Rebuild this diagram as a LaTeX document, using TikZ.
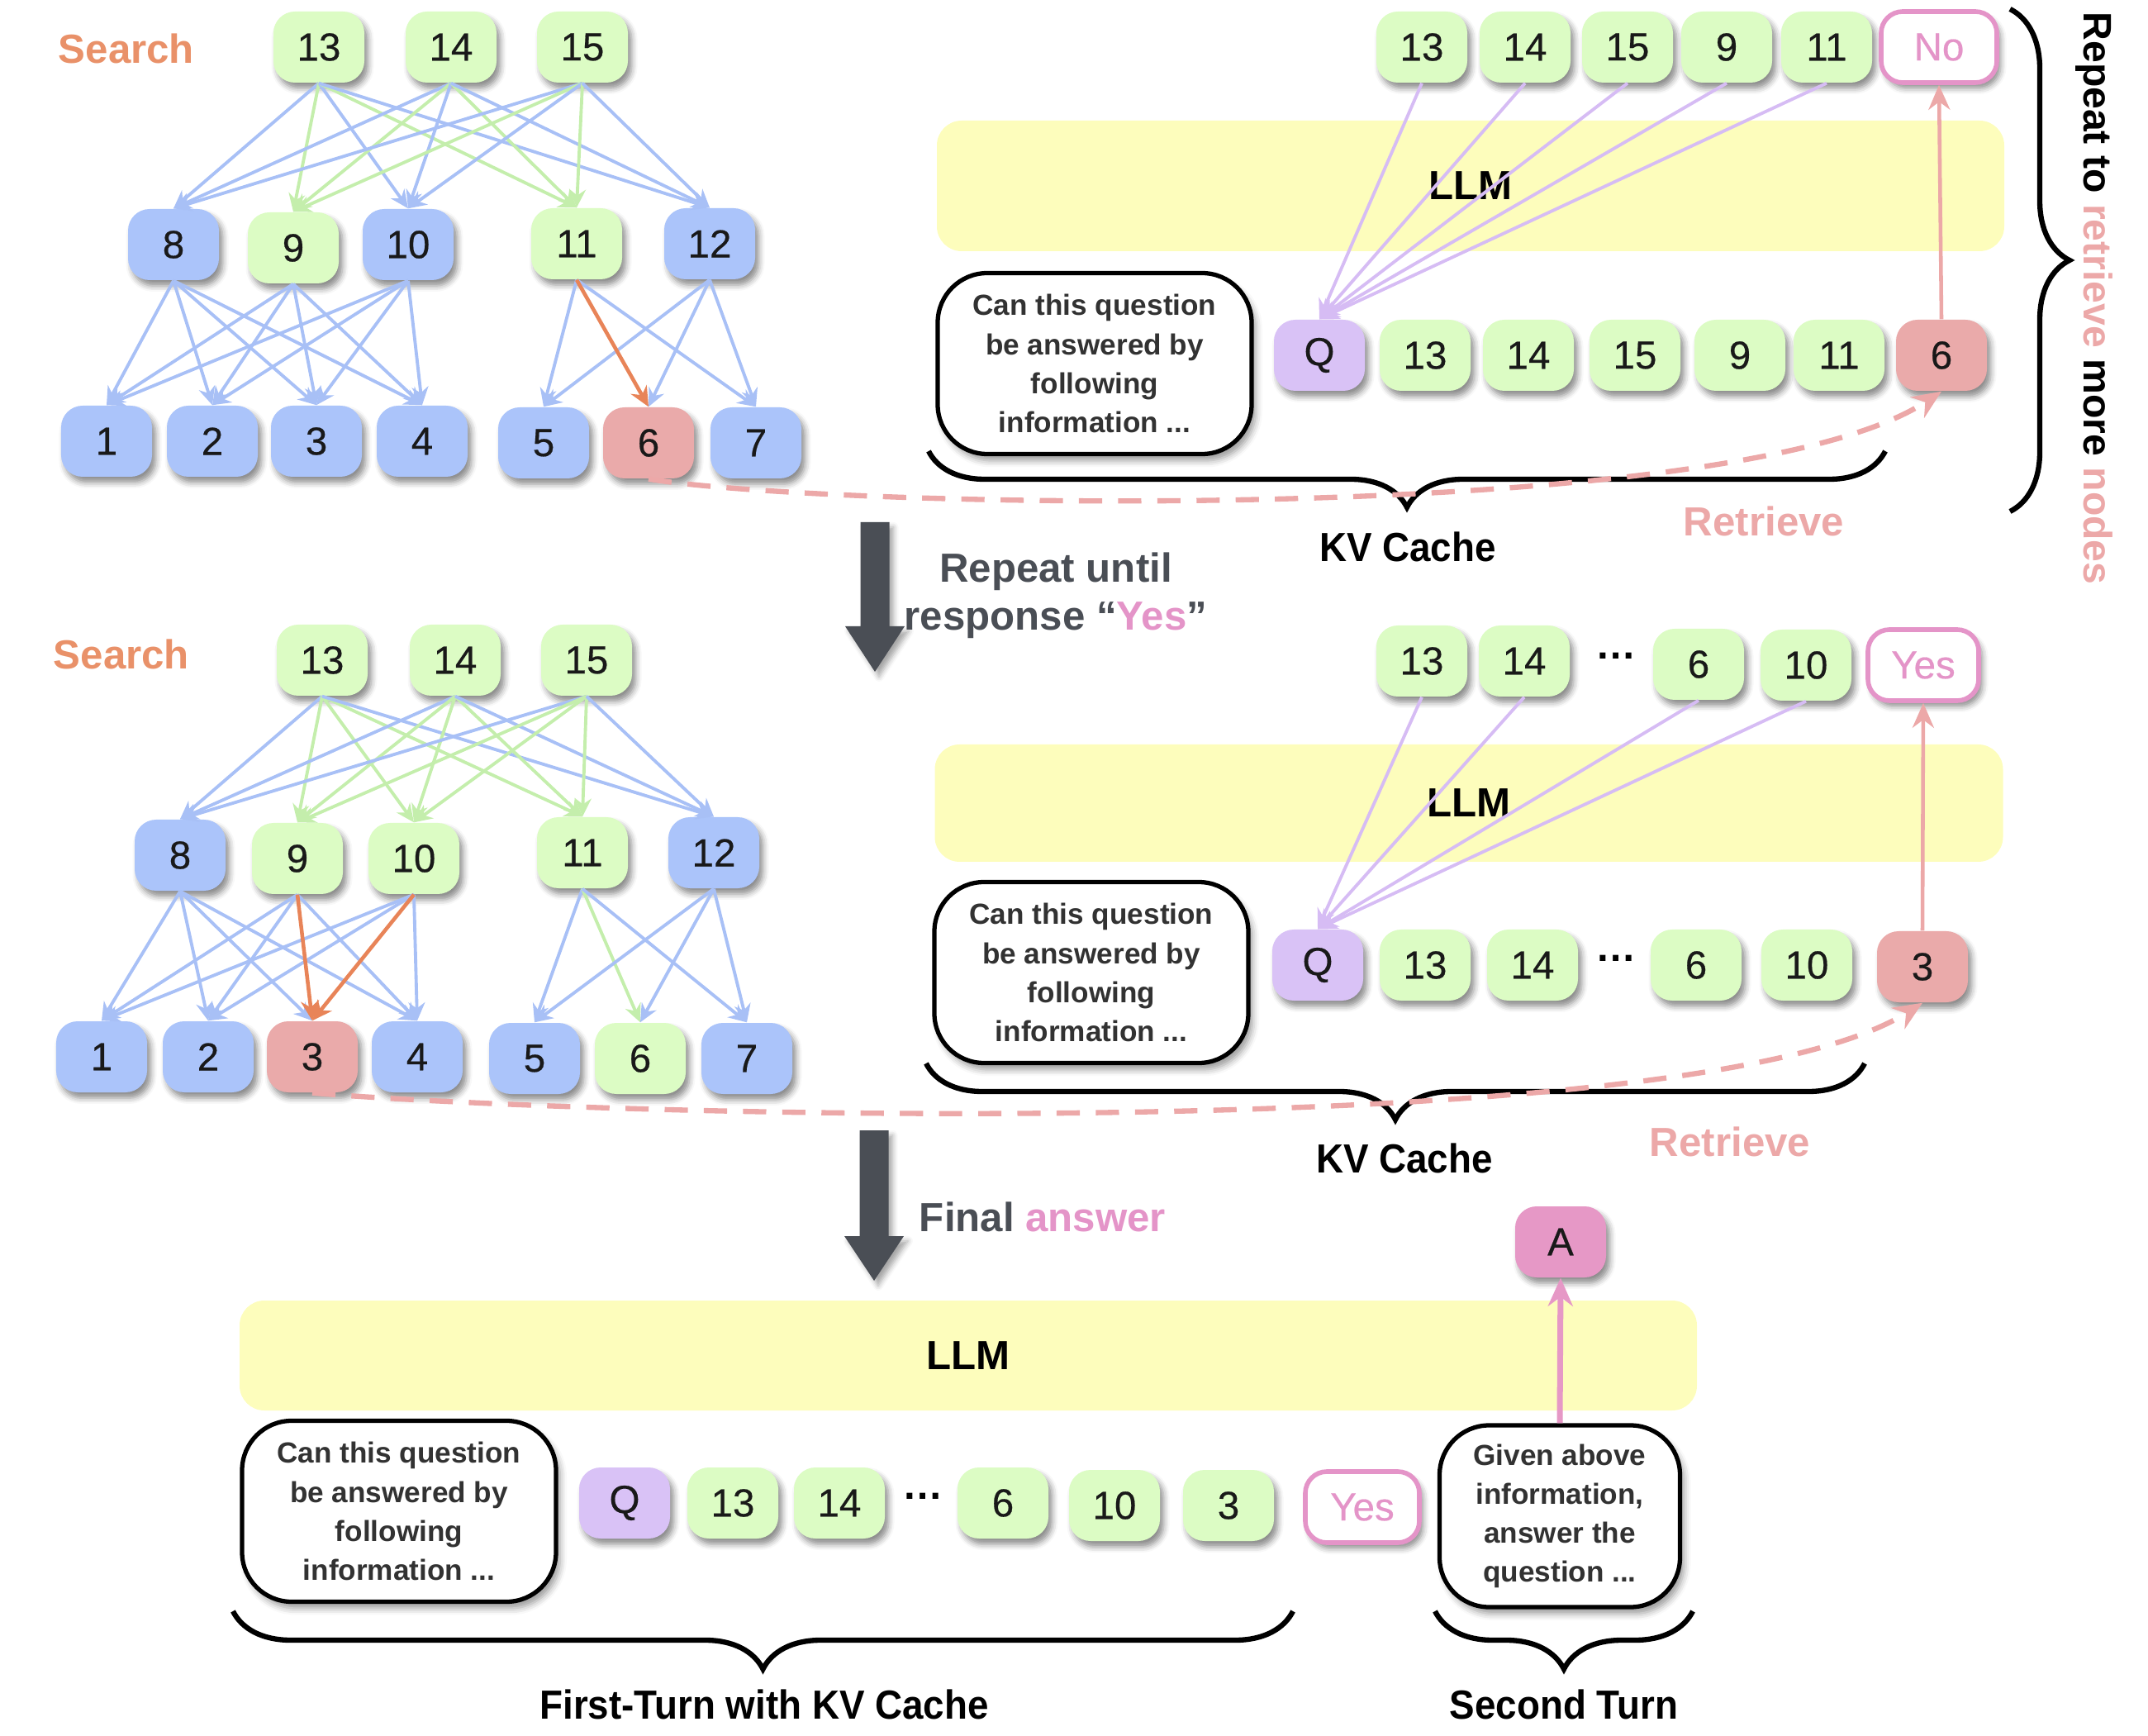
\documentclass[tikz,border=0pt]{standalone}
\usepackage{fontspec}
\setmainfont{Liberation Sans}
\newfontfamily\tokfamily[FakeBold=0.4]{Liberation Sans}
\newfontfamily\narrowfamily[FakeStretch=0.93]{Liberation Sans}
\usetikzlibrary{arrows.meta, shadows.blur, decorations.pathreplacing, calc}

\definecolor{nodeblue}{RGB}{171,196,250}
\definecolor{nodegreen}{RGB}{220,252,196}
\definecolor{nodered}{RGB}{234,170,170}
\definecolor{nodepurple}{RGB}{217,194,246}
\definecolor{nodepink}{RGB}{230,152,198}
\definecolor{replypink}{RGB}{228,148,200}
\definecolor{llmyellow}{RGB}{253,253,188}
\definecolor{searchorange}{RGB}{233,145,105}
\definecolor{pathorange}{RGB}{232,132,88}
\definecolor{edgeblue}{RGB}{168,192,246}
\definecolor{edgegreen}{RGB}{196,238,172}
\definecolor{attnpurple}{RGB}{214,188,244}
\definecolor{retrievepink}{RGB}{236,168,168}
\definecolor{slate}{RGB}{74,78,85}
\definecolor{asktext}{RGB}{50,50,50}
\definecolor{tokink}{RGB}{25,25,25}

\newcommand{\toksize}{\tokfamily\fontsize{13.5}{16}\selectfont}
\newcommand{\labsize}{\bfseries\fontsize{14}{16.5}\selectfont}
\newcommand{\narrowsize}{\narrowfamily\bfseries\fontsize{14}{16.5}\selectfont}
\newcommand{\asksize}{\bfseries\fontsize{10}{13.4}\selectfont}

\tikzstyle{tok} = [rectangle, rounded corners=0.26cm, minimum width=1.1cm, minimum height=0.86cm, inner sep=0pt, text centered, font=\toksize, text=tokink, blur shadow={shadow xshift=0.45mm, shadow yshift=-0.7mm, shadow blur radius=0.7mm, shadow opacity=45}]
\tikzstyle{blue_tok} = [tok, fill=nodeblue]
\tikzstyle{green_tok} = [tok, fill=nodegreen]
\tikzstyle{red_tok} = [tok, fill=nodered]
\tikzstyle{q_tok} = [tok, fill=nodepurple]
\tikzstyle{ans_tok} = [tok, fill=nodepink]
\tikzstyle{reply_tok} = [tok, fill=white, draw=replypink, line width=1.6pt, text=replypink, minimum width=1.4cm]
\tikzstyle{dots} = [font=\labsize, text=black]
\tikzstyle{llm} = [rectangle, rounded corners=0.3cm, fill=llmyellow, font=\labsize]
\tikzstyle{bubble} = [rectangle, rounded corners=0.6cm, draw=black, line width=1.5pt, fill=white, align=center, font=\asksize, text=asktext, minimum width=3.8cm, minimum height=2.19cm, blur shadow={shadow xshift=0.5mm, shadow yshift=-0.8mm, shadow blur radius=0.8mm, shadow opacity=40}]
\tikzstyle{label} = [font=\narrowsize, text=black]
\tikzstyle{search_label} = [font=\labsize, text=searchorange]
\tikzstyle{step_label} = [font=\labsize, text=slate, align=center]
\tikzstyle{blue_edge} = [line width=1.1pt, draw=edgeblue, -{Stealth[length=2.2mm,width=2mm]}]
\tikzstyle{green_edge} = [line width=1.1pt, draw=edgegreen, -{Stealth[length=2.2mm,width=2mm]}]
\tikzstyle{path_edge} = [line width=1.3pt, draw=pathorange, -{Stealth[length=2.4mm,width=2.2mm]}]
\tikzstyle{attn_edge} = [line width=1.1pt, draw=attnpurple, -{Stealth[length=2.4mm,width=2.2mm]}]
\tikzstyle{out_arrow} = [line width=1.3pt, draw=retrievepink, -{Stealth[length=3mm,width=2.6mm]}]
\tikzstyle{ans_arrow} = [line width=2pt, draw=nodepink, -{Stealth[length=3.4mm,width=3mm]}]
\tikzstyle{retrieve_path} = [line width=1.8pt, draw=retrievepink, dash pattern=on 8pt off 5.5pt, -{Stealth[length=3.5mm,width=3mm]}]
\tikzstyle{kv_brace} = [decorate, decoration={brace, mirror, amplitude=0.68cm}, line width=1.8pt]
\tikzstyle{side_brace} = [decorate, decoration={brace, amplitude=0.72cm}, line width=1.8pt]

\begin{document}
\begin{tikzpicture}
\useasboundingbox (0,0) rectangle (26,21);

% ---------- first search tree
\node (search_a) [search_label] at (1.53,20.41) {Search};
\node (a13) [green_tok] at (3.86,20.43) {13};
\node (a14) [green_tok] at (5.46,20.43) {14};
\node (a15) [green_tok] at (7.05,20.43) {15};

\node (a8)  [blue_tok]  at (2.10,18.04) {8};
\node (a9)  [green_tok] at (3.55,18.00) {9};
\node (a10) [blue_tok]  at (4.94,18.04) {10};
\node (a11) [green_tok] at (6.98,18.05) {11};
\node (a12) [blue_tok]  at (8.59,18.05) {12};

\node (a1) [blue_tok] at (1.29,15.66) {1};
\node (a2) [blue_tok] at (2.57,15.66) {2};
\node (a3) [blue_tok] at (3.83,15.66) {3};
\node (a4) [blue_tok] at (5.11,15.66) {4};
\node (a5) [blue_tok] at (6.58,15.64) {5};
\node (a6) [red_tok]  at (7.85,15.64) {6};
\node (a7) [blue_tok] at (9.15,15.64) {7};

\draw [blue_edge]  (a13.south) -- (a8.north);
\draw [green_edge] (a13.south) -- (a9.north);
\draw [blue_edge]  (a13.south) -- (a10.north);
\draw [green_edge] (a13.south) -- (a11.north);
\draw [blue_edge]  (a13.south) -- (a12.north);
\draw [blue_edge]  (a14.south) -- (a8.north);
\draw [green_edge] (a14.south) -- (a9.north);
\draw [blue_edge]  (a14.south) -- (a10.north);
\draw [green_edge] (a14.south) -- (a11.north);
\draw [blue_edge]  (a14.south) -- (a12.north);
\draw [blue_edge]  (a15.south) -- (a8.north);
\draw [green_edge] (a15.south) -- (a9.north);
\draw [blue_edge]  (a15.south) -- (a10.north);
\draw [green_edge] (a15.south) -- (a11.north);
\draw [blue_edge]  (a15.south) -- (a12.north);

\draw [blue_edge] (a8.south) -- (a1.north);
\draw [blue_edge] (a8.south) -- (a2.north);
\draw [blue_edge] (a8.south) -- (a3.north);
\draw [blue_edge] (a8.south) -- (a4.north);
\draw [blue_edge] (a9.south) -- (a1.north);
\draw [blue_edge] (a9.south) -- (a2.north);
\draw [blue_edge] (a9.south) -- (a3.north);
\draw [blue_edge] (a9.south) -- (a4.north);
\draw [blue_edge] (a10.south) -- (a1.north);
\draw [blue_edge] (a10.south) -- (a2.north);
\draw [blue_edge] (a10.south) -- (a3.north);
\draw [blue_edge] (a10.south) -- (a4.north);
\draw [blue_edge] (a11.south) -- (a5.north);
\draw [blue_edge] (a11.south) -- (a7.north);
\draw [blue_edge] (a12.south) -- (a5.north);
\draw [blue_edge] (a12.south) -- (a6.north);
\draw [blue_edge] (a12.south) -- (a7.north);
\draw [path_edge] (a11.south) -- (a6.north);

% ---------- first LLM pass
\node (llm_a) [llm, minimum width=12.92cm, minimum height=1.58cm] at (17.80,18.75) {LLM};
\node (ask_a) [bubble] at (13.25,16.60) {Can this question\\be answered by\\following\\information ...};

\node (qa)   [q_tok]     at (15.97,16.70) {Q};
\node (ka13) [green_tok] at (17.25,16.70) {13};
\node (ka14) [green_tok] at (18.50,16.70) {14};
\node (ka15) [green_tok] at (19.79,16.70) {15};
\node (ka9)  [green_tok] at (21.06,16.70) {9};
\node (ka11) [green_tok] at (22.26,16.70) {11};
\node (ka6)  [red_tok]   at (23.50,16.70) {6};

\node (ya13) [green_tok] at (17.21,20.43) {13};
\node (ya14) [green_tok] at (18.46,20.43) {14};
\node (ya15) [green_tok] at (19.70,20.43) {15};
\node (ya9)  [green_tok] at (20.90,20.43) {9};
\node (ya11) [green_tok] at (22.11,20.43) {11};
\node (no)   [reply_tok] at (23.47,20.43) {No};

\draw [attn_edge] (ya13.south) -- (qa.north);
\draw [attn_edge] (ya14.south) -- (qa.north);
\draw [attn_edge] (ya15.south) -- (qa.north);
\draw [attn_edge] (ya9.south) -- (qa.north);
\draw [attn_edge] (ya11.south) -- (qa.north);
\draw [out_arrow] (ka6.north) -- (no.south);

\coordinate (kva_l) at (11.24,15.54);
\coordinate (kva_r) at (22.82,15.54);
\draw [kv_brace] (kva_l) -- (kva_r);
\node (kv_a) [label] at (17.04,14.38) {KV Cache};
\node (retr_a) [search_label, text=retrievepink] at (21.35,14.69) {Retrieve};
\draw [retrieve_path] (a6.south) .. controls (10,14.85) and (21,14.6) .. (ka6.south);

\coordinate (rep_top) at (24.33,20.89);
\coordinate (rep_bot) at (24.33,14.81);
\draw [side_brace] (rep_top) -- (rep_bot);
\node (repeat_more) [font=\bfseries\fontsize{13.7}{16}\selectfont, rotate=-90] at (25.35,17.39) {Repeat to \textcolor{retrievepink}{retrieve} more \textcolor{retrievepink}{nodes}};

% ---------- repeat arrow
\coordinate (arr_a) at (10.59,14.68);
\fill [slate, blur shadow={shadow xshift=0.5mm, shadow yshift=-0.6mm, shadow blur radius=0.6mm, shadow opacity=35}]
    ($(arr_a)+(-0.175,0)$) -- ++(0.35,0) -- ++(0,-1.26) -- ++(0.185,0)
    -- ++(-0.36,-0.55) -- ++(-0.36,0.55) -- ++(0.185,0) -- cycle;
\node (repeat_txt) [step_label] at (12.78,13.79) {Repeat until\\response “\textcolor{replypink}{Yes}”};

% ---------- second search tree
\node (search_b) [search_label] at (1.47,13.08) {Search};
\node (b13) [green_tok] at (3.90,13.01) {13};
\node (b14) [green_tok] at (5.51,13.01) {14};
\node (b15) [green_tok] at (7.10,13.01) {15};

\node (b8)  [blue_tok]  at (2.18,10.65) {8};
\node (b9)  [green_tok] at (3.60,10.61) {9};
\node (b10) [green_tok] at (5.01,10.61) {10};
\node (b11) [green_tok] at (7.05,10.68) {11};
\node (b12) [blue_tok]  at (8.64,10.68) {12};

\node (b1) [blue_tok]  at (1.23,8.21) {1};
\node (b2) [blue_tok]  at (2.52,8.21) {2};
\node (b3) [red_tok]   at (3.78,8.21) {3};
\node (b4) [blue_tok]  at (5.05,8.21) {4};
\node (b5) [blue_tok]  at (6.47,8.19) {5};
\node (b6) [green_tok] at (7.75,8.19) {6};
\node (b7) [blue_tok]  at (9.04,8.19) {7};

\draw [blue_edge]  (b13.south) -- (b8.north);
\draw [green_edge] (b13.south) -- (b9.north);
\draw [green_edge] (b13.south) -- (b10.north);
\draw [green_edge] (b13.south) -- (b11.north);
\draw [blue_edge]  (b13.south) -- (b12.north);
\draw [blue_edge]  (b14.south) -- (b8.north);
\draw [green_edge] (b14.south) -- (b9.north);
\draw [green_edge] (b14.south) -- (b10.north);
\draw [green_edge] (b14.south) -- (b11.north);
\draw [blue_edge]  (b14.south) -- (b12.north);
\draw [blue_edge]  (b15.south) -- (b8.north);
\draw [green_edge] (b15.south) -- (b9.north);
\draw [green_edge] (b15.south) -- (b10.north);
\draw [green_edge] (b15.south) -- (b11.north);
\draw [blue_edge]  (b15.south) -- (b12.north);

\draw [blue_edge] (b8.south) -- (b1.north);
\draw [blue_edge] (b8.south) -- (b2.north);
\draw [blue_edge] (b8.south) -- (b3.north);
\draw [blue_edge] (b8.south) -- (b4.north);
\draw [blue_edge] (b9.south) -- (b1.north);
\draw [blue_edge] (b9.south) -- (b2.north);
\draw [blue_edge] (b9.south) -- (b4.north);
\draw [blue_edge] (b10.south) -- (b1.north);
\draw [blue_edge] (b10.south) -- (b2.north);
\draw [blue_edge] (b10.south) -- (b4.north);
\draw [blue_edge] (b11.south) -- (b5.north);
\draw [green_edge] (b11.south) -- (b6.north);
\draw [blue_edge] (b11.south) -- (b7.north);
\draw [blue_edge] (b12.south) -- (b5.north);
\draw [blue_edge] (b12.south) -- (b6.north);
\draw [blue_edge] (b12.south) -- (b7.north);
\draw [path_edge] (b9.south) -- (b3.north);
\draw [path_edge] (b10.south) -- (b3.north);

% ---------- second LLM pass
\node (llm_b) [llm, minimum width=12.93cm, minimum height=1.42cm] at (17.78,11.28) {LLM};
\node (ask_b) [bubble] at (13.21,9.23) {Can this question\\be answered by\\following\\information ...};

\node (qb)      [q_tok]     at (15.95,9.32) {Q};
\node (kb13)    [green_tok] at (17.25,9.32) {13};
\node (kb14)    [green_tok] at (18.55,9.32) {14};
\node (kb_dots) [dots]      at (19.56,9.40) {…};
\node (kb6)     [green_tok] at (20.53,9.32) {6};
\node (kb10)    [green_tok] at (21.87,9.32) {10};
\node (kb3)     [red_tok]   at (23.27,9.30) {3};

\node (yb13)    [green_tok] at (17.21,13.00) {13};
\node (yb14)    [green_tok] at (18.45,13.00) {14};
\node (yb_dots) [dots]      at (19.56,13.06) {…};
\node (yb6)     [green_tok] at (20.56,12.96) {6};
\node (yb10)    [green_tok] at (21.86,12.95) {10};
\node (yes)     [reply_tok, minimum width=1.34cm] at (23.28,12.95) {Yes};

\draw [attn_edge] (yb13.south) -- (qb.north);
\draw [attn_edge] (yb14.south) -- (qb.north);
\draw [attn_edge] (yb6.south) -- (qb.north);
\draw [attn_edge] (yb10.south) -- (qb.north);
\draw [out_arrow] (kb3.north) -- (yes.south);

\coordinate (kvb_l) at (11.21,8.13);
\coordinate (kvb_r) at (22.57,8.13);
\draw [kv_brace] (kvb_l) -- (kvb_r);
\node (kv_b) [label] at (17.00,6.98) {KV Cache};
\node (retr_b) [search_label, text=retrievepink] at (20.94,7.18) {Retrieve};
\draw [retrieve_path] (b3.south) .. controls (7,7.5) and (20.5,7.1) .. (kb3.south);

% ---------- final answer arrow
\coordinate (arr_b) at (10.58,7.32);
\fill [slate, blur shadow={shadow xshift=0.5mm, shadow yshift=-0.6mm, shadow blur radius=0.6mm, shadow opacity=35}]
    ($(arr_b)+(-0.175,0)$) -- ++(0.35,0) -- ++(0,-1.28) -- ++(0.185,0)
    -- ++(-0.36,-0.54) -- ++(-0.36,0.54) -- ++(0.185,0) -- cycle;
\node (final_txt) [step_label] at (12.62,6.27) {Final \textcolor{replypink}{answer}};

% ---------- final LLM pass
\node (llm_c) [llm, minimum width=17.64cm, minimum height=1.33cm] at (11.72,4.595) {LLM};
\node (ask_c) [bubble] at (4.83,2.71) {Can this question\\be answered by\\following\\information ...};

\node (qc)      [q_tok]     at (7.56,2.81) {Q};
\node (kc13)    [green_tok] at (8.87,2.81) {13};
\node (kc14)    [green_tok] at (10.16,2.81) {14};
\node (kc_dots) [dots]      at (11.17,2.89) {…};
\node (kc6)     [green_tok] at (12.14,2.81) {6};
\node (kc10)    [green_tok] at (13.49,2.78) {10};
\node (kc3)     [green_tok] at (14.87,2.78) {3};
\node (yes_c)   [reply_tok, minimum width=1.38cm] at (16.49,2.76) {Yes};

\node (given) [bubble, minimum width=2.91cm, minimum height=2.2cm] at (18.88,2.65) {Given above\\information,\\answer the\\question ...};
\node (ans)   [ans_tok] at (18.89,5.97) {A};
\draw [ans_arrow] (given.north) -- (ans.south);

\coordinate (first_l) at (2.82,1.50);
\coordinate (first_r) at (15.65,1.50);
\draw [kv_brace, decoration={amplitude=0.7cm}] (first_l) -- (first_r);
\node (first_turn) [label] at (9.25,0.37) {First-Turn with KV Cache};

\coordinate (second_l) at (17.37,1.50);
\coordinate (second_r) at (20.49,1.50);
\draw [kv_brace, decoration={amplitude=0.7cm}] (second_l) -- (second_r);
\node (second_turn) [label] at (18.93,0.37) {Second Turn};

\end{tikzpicture}
\end{document}
